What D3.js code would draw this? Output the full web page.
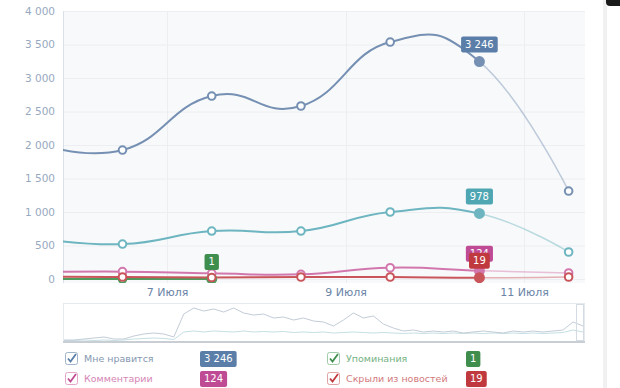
<!DOCTYPE html>
<html>
<head>
<meta charset="utf-8">
<script src="https://cdn.jsdelivr.net/npm/d3@7"></script>
<style>
html, body { margin: 0; padding: 0; background: #fff; }
svg { display: block; font-family: "DejaVu Sans", sans-serif; }
</style>
</head>
<body>
<svg id="chart" width="620" height="388"></svg>
<script>
// daily points (noon of each day)
const days = ["2013-07-05", "2013-07-06", "2013-07-07", "2013-07-08", "2013-07-09", "2013-07-10", "2013-07-11"];
const likes = [2050, 1925, 2731, 2582, 3537, 3246, 1313];
const shares = [620, 522, 716, 716, 1000, 978, 403];
const comments = [100, 110, 85, 70, 168, 124, 90];
const mentions = [0, 0, 1];
const hidden = [35, 30, 22, 30, 30, 19, 30];

const yTicks = [0, 500, 1000, 1500, 2000, 2500, 3000, 3500, 4000];
const xTicks = ["2013-07-07", "2013-07-09", "2013-07-11"];

// navigator overview lines
const navLikes = [100, 100, 200, 300, 400, 200, 200, 500, 700, 800, 700, 400, 2700, 3300, 3000, 3200, 2900, 3300,
    2800, 2600, 2700, 2300, 2400, 2100, 2300, 2000, 1900, 1500, 2100, 2800, 2300, 2500, 1700, 1300, 1000, 1100,
    900, 1000, 900, 1000, 800, 900, 1000, 900, 800, 1000, 900, 1000, 900, 1000, 1100, 1900, 1500];
const navShares = [50, 50, 100, 50, 100, 50, 100, 200, 250, 300, 250, 150, 900, 1000, 900, 1000, 950, 900,
    1000, 900, 950, 900, 950, 850, 900, 850, 900, 800, 850, 900, 850, 800, 850, 800, 750, 800,
    750, 800, 750, 800, 750, 800, 750, 800, 750, 800, 750, 800, 750, 800, 850, 1100, 900];

const svg = d3.select("#chart");
const parseDay = d3.timeParse("%Y-%m-%d");
const noon = s => d3.timeHour.offset(parseDay(s), 12);
const ru = d3.formatLocale({ decimal: ",", thousands: " ", grouping: [3], currency: ["", ""] });
const fmt = ru.format(",d");

const plotL = 63, plotR = 585, plotT = 11, plotB = 283;

const x = d3.scaleTime()
    .domain([d3.timeHour.offset(parseDay("2013-07-05"), 20), d3.timeMinute.offset(parseDay("2013-07-11"), 16 * 60 + 24)])
    .range([plotL, plotR]);
const y = d3.scaleLinear().domain([0, 4000]).range([279, plotT]);

// plot background
svg.append("rect").attr("x", plotL).attr("y", plotT).attr("width", plotR - plotL).attr("height", plotB - plotT)
    .attr("fill", "#f8f9fa");

// horizontal grid
svg.append("g").selectAll("line").data(yTicks).join("line")
    .attr("x1", plotL).attr("x2", plotR)
    .attr("y1", d => y(d) + 0.5).attr("y2", d => y(d) + 0.5)
    .attr("stroke", "#eceef1");

// vertical grid
svg.append("g").selectAll("line").data(xTicks).join("line")
    .attr("x1", d => Math.round(x(parseDay(d))) + 0.5).attr("x2", d => Math.round(x(parseDay(d))) + 0.5)
    .attr("y1", plotT).attr("y2", plotB)
    .attr("stroke", "#eceef1");

// y axis
const yAxis = svg.append("g")
    .attr("transform", `translate(${plotL},0)`)
    .call(d3.axisLeft(y).tickValues(yTicks).tickFormat(fmt).tickSize(0).tickPadding(8));
yAxis.select(".domain").remove();
yAxis.selectAll("text").attr("fill", "#97a9c0").style("font-size", "10.5px").style("font-family", "DejaVu Sans");
svg.append("line").attr("x1", plotL + 0.5).attr("x2", plotL + 0.5).attr("y1", plotT).attr("y2", plotB)
    .attr("stroke", "#d9e0e8");

// x axis band
svg.append("rect").attr("x", plotL).attr("y", plotB).attr("width", plotR - plotL).attr("height", 20).attr("fill", "#fff");
const xAxis = svg.append("g")
    .attr("transform", `translate(0,${plotB})`)
    .call(d3.axisBottom(x).tickValues(xTicks.map(parseDay)).tickFormat(d => d.getDate() + " Июля").tickSize(0).tickPadding(5));
xAxis.select(".domain").remove();
xAxis.selectAll("text").attr("fill", "#6b84a6").style("font-size", "11px").style("font-family", "DejaVu Sans");

// series
const series = [
    { name: "likes", values: likes, color: "#7590b3", hi: 5 },
    { name: "shares", values: shares, color: "#6db5c0", hi: 5 },
    { name: "comments", values: comments, color: "#d277ae", hi: 5 },
    { name: "mentions", values: mentions, color: "#4f9a5c", hi: 2 },
    { name: "hidden", values: hidden, color: "#c9555a", hi: 5 }
];

const cut = x(noon(days[5]));
const defs = svg.append("defs");
defs.append("clipPath").attr("id", "solid").append("rect")
    .attr("x", plotL).attr("y", 0).attr("width", cut - plotL).attr("height", plotB);
defs.append("clipPath").attr("id", "faded").append("rect")
    .attr("x", cut).attr("y", 0).attr("width", plotR - cut).attr("height", plotB);
defs.append("clipPath").attr("id", "plot").append("rect")
    .attr("x", plotL).attr("y", 0).attr("width", plotR - plotL).attr("height", plotB);

const line = d3.line()
    .x(d => x(d.date))
    .y(d => y(d.value))
    .curve(d3.curveCardinal.tension(-0.4));

series.forEach(s => {
    s.points = s.values.map((v, i) => ({ date: noon(days[i]), value: v }));
    const g = svg.append("g").attr("clip-path", "url(#plot)");
    g.append("path").datum(s.points)
        .attr("d", line).attr("fill", "none")
        .attr("stroke", s.color).attr("stroke-width", 2)
        .attr("clip-path", "url(#solid)");
    g.append("path").datum(s.points)
        .attr("d", line).attr("fill", "none")
        .attr("stroke", s.color).attr("stroke-opacity", 0.45).attr("stroke-width", 1.5)
        .attr("clip-path", "url(#faded)");
});

series.forEach(s => {
    const g = svg.append("g").attr("clip-path", "url(#plot)");
    g.selectAll("circle").data(s.points).join("circle")
        .attr("cx", d => x(d.date)).attr("cy", d => y(d.value))
        .attr("r", (d, i) => i === s.hi ? 4.5 : 3.8)
        .attr("fill", (d, i) => i === s.hi ? s.color : "#fff")
        .attr("stroke", s.color).attr("stroke-width", 2);
});

// value badges over the highlighted points
function badge(g, cx, by, text, color, h) {
    const t = g.append("text").attr("x", cx).attr("y", by - h / 2 + 3.5)
        .attr("text-anchor", "middle").attr("fill", "#fff")
        .style("font-size", "10px").text(text);
    const w = t.node().getComputedTextLength() + 8;
    g.insert("rect", "text").attr("x", cx - w / 2).attr("y", by - h).attr("width", w).attr("height", h)
        .attr("rx", 2).attr("fill", color);
}
const badges = svg.append("g");
const badgeColors = { likes: "#5a7ea8", shares: "#4fa6b3", comments: "#c04b95", mentions: "#3f8e4e", hidden: "#c0393e" };
["likes", "shares", "comments", "mentions", "hidden"].forEach(n => {
    const s = series.find(d => d.name === n);
    const p = s.points[s.hi];
    const g = badges.append("g");
    badge(g, x(p.date), y(p.value) - 9, fmt(p.value), badgeColors[n], 16);
});

// navigator
const navTop = 303, navBottom = 342;
svg.append("rect").attr("x", plotL + 0.5).attr("y", navTop + 0.5).attr("width", plotR - plotL - 1).attr("height", navBottom - navTop)
    .attr("fill", "#fff").attr("stroke", "#e6e9ed");
const nx = d3.scaleLinear().domain([0, navLikes.length - 1]).range([plotL + 1, plotR - 2]);
const ny = d3.scaleLinear().domain([0, 3600]).range([341, 305]);
const navLine = d3.line().x((d, i) => nx(i)).y(d => ny(d));
svg.append("path").datum(navShares).attr("d", navLine).attr("fill", "none").attr("stroke", "#c5dfe3").attr("stroke-width", 1);
svg.append("path").datum(navLikes).attr("d", navLine).attr("fill", "none").attr("stroke", "#c3ccd8").attr("stroke-width", 1);
svg.append("line").attr("x1", plotL).attr("x2", plotR).attr("y1", navBottom).attr("y2", navBottom)
    .attr("stroke", "#c9ced5").attr("stroke-width", 2);
svg.append("rect").attr("x", 576.5).attr("y", navTop + 1.5).attr("width", 7).attr("height", navBottom - navTop - 3)
    .attr("fill", "none").attr("stroke", "#d5dbe2");

// legend
const legendItems = [
    { label: "Мне нравится", value: likes[5], box: "#9fb3cb", check: "#5a7ea8", text: "#8497b0", badge: "#5a7ea8", col: 0, row: 0 },
    { label: "Комментарии", value: comments[5], box: "#e3a6c9", check: "#c04b95", text: "#d585b4", badge: "#c04b95", col: 0, row: 1 },
    { label: "Упоминания", value: mentions[2], box: "#9fcca8", check: "#3f8e4e", text: "#74b182", badge: "#3f8e4e", col: 1, row: 0 },
    { label: "Скрыли из новостей", value: hidden[5], box: "#e2a1a3", check: "#c0393e", text: "#d27a7d", badge: "#c0393e", col: 1, row: 1 }
];
const colX = [65, 327], badgeX = [200, 466], rowY = [352, 372];
legendItems.forEach(d => {
    const g = svg.append("g").attr("transform", `translate(${colX[d.col]},${rowY[d.row]})`);
    g.append("rect").attr("x", 0.5).attr("y", 0.5).attr("width", 12).attr("height", 12).attr("rx", 2)
        .attr("fill", "#fff").attr("stroke", d.box);
    g.append("path").attr("d", "M3,6.5 L5.5,9.5 L11,2").attr("fill", "none")
        .attr("stroke", d.check).attr("stroke-width", 1.8);
    g.append("text").attr("x", 19).attr("y", 10).attr("fill", d.text)
        .style("font-size", "9.5px").text(d.label);
    const b = svg.append("g");
    const t = b.append("text").attr("x", badgeX[d.col] + 4).attr("y", rowY[d.row] + 10)
        .attr("fill", "#fff").style("font-size", "10px").text(fmt(d.value));
    const w = t.node().getComputedTextLength() + 8;
    b.insert("rect", "text").attr("x", badgeX[d.col]).attr("y", rowY[d.row] - 1).attr("width", w).attr("height", 16)
        .attr("rx", 2).attr("fill", d.badge);
});

// right edge of the page frame
svg.append("rect").attr("x", 603).attr("y", 0).attr("width", 4).attr("height", 388).attr("fill", "#f1f1f1");
svg.append("rect").attr("x", 606).attr("y", -6).attr("width", 20).attr("height", 12).attr("rx", 4).attr("fill", "#1a1a1a");
</script>
</body>
</html>
